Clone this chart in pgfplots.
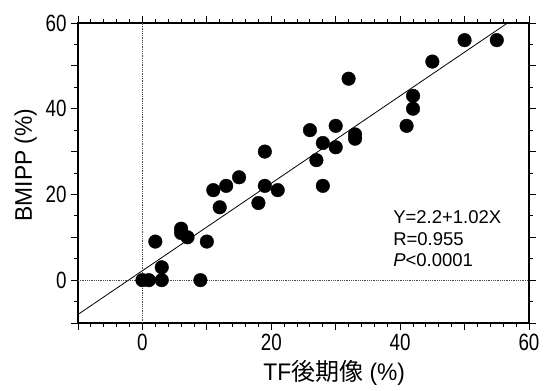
\documentclass[border=0pt]{standalone}
\usepackage{fontspec}
\setmainfont{Liberation Sans}
\newfontfamily\cjk{Noto Sans CJK JP}
\newfontfamily\narrow[FakeStretch=0.8]{Liberation Sans}
\newfontfamily\labfont[FakeStretch=0.95]{Liberation Sans}
\usepackage{pgfplots}
\pgfplotsset{compat=1.18}
\pgfplotstableread{
x y
0 0
1 0
3 0
3 3
2 9
9 0
6 12
6 11
7 10
10 9
12 17
18 18
11 21
13 22
15 24
19 30
19 22
21 21
26 35
28 32
30 36
30 31
27 28
28 22
32 47
33 34
33 33
41 36
42 43
42 40
45 51
50 56
55 56
}\datatable
\begin{document}
\begin{tikzpicture}
\useasboundingbox (0,0) rectangle (550bp,391bp);
\begin{axis}[
  at={(78bp,68bp)}, anchor=south west,
  scale only axis, width=451bp, height=300bp,
  xmin=-10, xmax=60, ymin=-10, ymax=60,
  xtick={-10,0,...,60}, xticklabels={,0,,20,,40,,60},
  ytick={-10,0,...,60}, yticklabels={,0,,20,,40,,60},
  minor x tick num=4, minor y tick num=1,
  tick align=outside, ticklabel pos=left,
  xtick pos=both, ytick pos=both,
  major tick length=7bp, minor tick length=4bp,
  axis line style={line width=1.1bp},
  every tick/.style={black, line width=0.9bp},
  /pgf/number format/assume math mode=true,
  tick label style={font=\narrow\fontsize{23.5bp}{23.5bp}\selectfont},
  xticklabel style={yshift=-0.5bp},
  yticklabel style={xshift=-1bp},
  xlabel={TF{\cjk 後期像} (\%)},
  ylabel={BMIPP (\%)},
  label style={font=\labfont\fontsize{24bp}{24bp}\selectfont},
  xlabel style={at={(axis description cs:0.568,-0.19)}, anchor=base},
  ylabel style={at={(axis description cs:-0.102,0.527)}, anchor=base, rotate=0},
  clip=true,
]
\addplot[densely dotted, gray!60!black, line width=0.8bp] coordinates {(0,-10) (0,60)};
\addplot[densely dotted, gray!60!black, line width=0.8bp] coordinates {(-10,0) (60,0)};
\addplot[black, line width=0.8bp] coordinates {(-10,-8) (56.67,60)};
\addplot[only marks, mark=*, mark size=6.8bp, black] table[x=x,y=y] {\datatable};
\node[anchor=base west, font=\fontsize{18.5bp}{18.5bp}\selectfont, inner sep=0pt] at (axis cs:38.9,13.1) {Y=2.2+1.02X};
\node[anchor=base west, font=\fontsize{18.5bp}{18.5bp}\selectfont, inner sep=0pt] at (axis cs:38.9,8.1) {R=0.955};
\node[anchor=base west, font=\fontsize{18.5bp}{18.5bp}\selectfont, inner sep=0pt] at (axis cs:38.9,3.1) {\textit{P}<0.0001};
\end{axis}
\end{tikzpicture}
\end{document}
